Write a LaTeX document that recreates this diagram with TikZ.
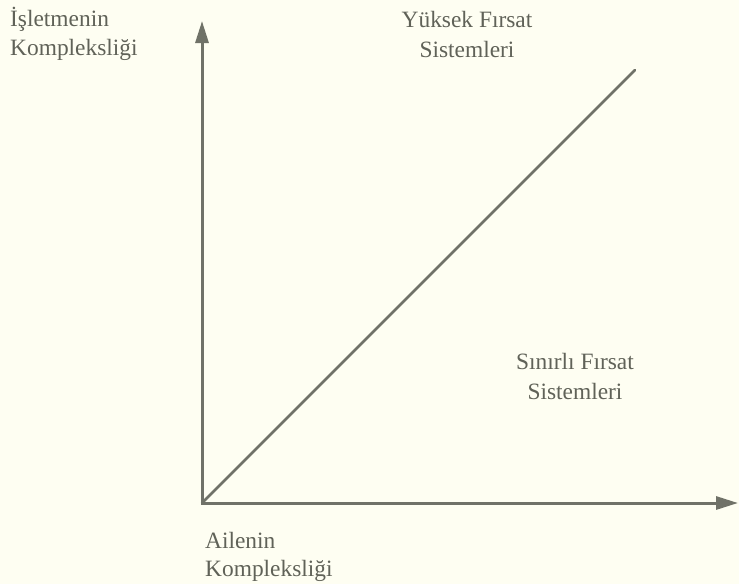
\documentclass[tikz,border=0pt]{standalone}
\usepackage{fontspec}
\setmainfont{Liberation Serif}
\usetikzlibrary{arrows.meta}
\definecolor{paper}{RGB}{254,254,242}
\definecolor{ink}{RGB}{96,98,88}
\definecolor{axisc}{RGB}{112,114,104}
\begin{document}
\begin{tikzpicture}[x=1pt,y=-1pt,
  lbl/.style={inner sep=0pt,text=ink,font=\fontsize{23.4}{29}\selectfont},
  axisline/.style={draw=axisc,line width=3pt,-{Triangle[length=22pt,width=13pt]}},
  diag/.style={draw=axisc,line width=2.6pt,line cap=round}]
\fill[paper] (0,0) rectangle (739,584);
\useasboundingbox (0,0) rectangle (739,584);
\coordinate (O) at (202,503);
\coordinate (ytip) at (202,21);
\coordinate (xtip) at (738,503);
\coordinate (dend) at (635,70);
\draw[axisline] ([yshift=1.5pt]O) -- (ytip);
\draw[axisline] ([xshift=-1.5pt]O) -- (xtip);
\draw[diag] (O) -- (dend);
\node[lbl,anchor=base west] (ya1) at (10,26) {İşletmenin};
\node[lbl,anchor=base west] (ya2) at (10,55) {Kompleksliği};
\node[lbl,anchor=base] (hi1) at (467,27) {Yüksek Fırsat};
\node[lbl,anchor=base] (hi2) at (467,57) {Sistemleri};
\node[lbl,anchor=base] (lo1) at (575,369) {Sınırlı Fırsat};
\node[lbl,anchor=base] (lo2) at (575,399) {Sistemleri};
\node[lbl,anchor=base west] (xa1) at (205,548) {Ailenin};
\node[lbl,anchor=base west] (xa2) at (205,576) {Kompleksliği};
\end{tikzpicture}
\end{document}
